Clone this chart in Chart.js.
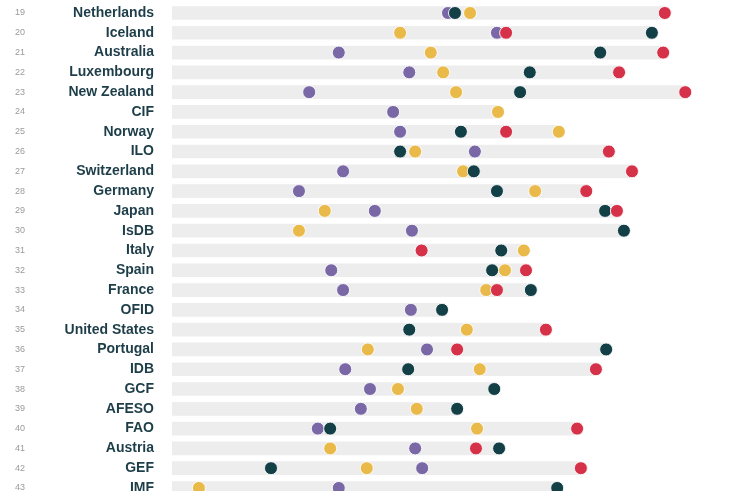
<!DOCTYPE html>
<html>
<head>
<meta charset="utf-8">
<script src="https://cdn.jsdelivr.net/npm/chart.js@4"></script>
<style>
  html, body { margin: 0; padding: 0; background: #fff; }
  #wrap { position: relative; width: 736px; height: 491px; }
</style>
</head>
<body>
<div id="wrap"><canvas id="chart"></canvas></div>
<script>
const ranks = [19, 20, 21, 22, 23, 24, 25, 26, 27, 28, 29, 30, 31, 32, 33, 34, 35, 36, 37, 38, 39, 40, 41, 42, 43];
const names = [
  'Netherlands', 'Iceland', 'Australia', 'Luxembourg', 'New Zealand', 'CIF', 'Norway', 'ILO',
  'Switzerland', 'Germany', 'Japan', 'IsDB', 'Italy', 'Spain', 'France', 'OFID',
  'United States', 'Portugal', 'IDB', 'GCF', 'AFESO', 'FAO', 'Austria', 'GEF', 'IMF'
];

// scores per indicator (null = not reported)
const purpleVals = [51.3, 60.4, 31.0, 44.1, 25.5, 41.1, 42.4, 56.3, 31.8, 23.6, 37.7, 44.6, 46.3, 29.6, 31.8, 44.4, null, 47.4, 32.2, 36.8, 35.1, 27.1, 45.2, 46.5, 31.0];
const yellowVals = [55.4, 42.4, 48.1, 50.4, 52.8, 60.6, 71.9, 45.2, 54.1, 67.5, 28.4, 23.6, 65.4, 61.9, 58.4, null, 54.8, 36.4, 57.2, 42.0, 45.5, 56.7, 29.4, 36.2, 5.0];
const tealVals   = [52.6, 89.2, 79.6, 66.5, 64.7, null, 53.7, 42.4, 56.1, 60.4, 80.5, 84.0, 61.2, 59.5, 66.7, 50.2, 44.1, 80.7, 43.9, 59.9, 53.0, 29.4, 60.8, 18.4, 71.6];
const redVals    = [91.6, 62.1, 91.3, 83.1, 95.4, null, 62.1, 81.2, 85.5, 77.0, 82.7, null, 46.4, 65.8, 60.4, null, 69.5, 53.0, 78.8, null, null, 75.3, 56.5, 76.0, null];

const series = [
  { vals: purpleVals, color: '#7a68a6' },
  { vals: yellowVals, color: '#e9b949' },
  { vals: tealVals,   color: '#133f47' },
  { vals: redVals,    color: '#d5324a' }
];

// gray track runs from 0 to the highest score in the row
const rowMax = ranks.map((r, i) => Math.max(...series.map(s => s.vals[i]).filter(v => v !== null)));

const rankLabels = {
  id: 'rankLabels',
  afterDraw(chart) {
    const ctx = chart.ctx;
    const y = chart.scales.y;
    ctx.save();
    ctx.font = '9px "Liberation Sans", Arial, sans-serif';
    ctx.fillStyle = '#9a9a9a';
    ctx.textAlign = 'center';
    ctx.textBaseline = 'middle';
    ranks.forEach(r => ctx.fillText(String(r), 20, y.getPixelForValue(r)));
    ctx.restore();
  }
};

const datasets = [{
  type: 'bar',
  data: ranks.map((r, i) => ({ x: [0, rowMax[i]], y: r })),
  backgroundColor: '#ededed',
  borderWidth: 0,
  barThickness: 13,
  order: 10
}];

series.forEach((s, k) => {
  datasets.push({
    type: 'scatter',
    data: ranks.map((r, i) => s.vals[i] === null ? null : { x: s.vals[i], y: r }).filter(d => d),
    backgroundColor: s.color,
    borderColor: 'rgba(255,255,255,0.9)',
    borderWidth: 1,
    pointRadius: 6.5,
    order: 4 - k
  });
});

new Chart(document.getElementById('chart'), {
  type: 'bar',
  data: { datasets },
  plugins: [rankLabels],
  options: {
    indexAxis: 'y',
    responsive: true,
    maintainAspectRatio: false,
    animation: false,
    layout: { autoPadding: false, padding: { left: 0, right: 26, top: 0, bottom: 0 } },
    plugins: { legend: { display: false }, tooltip: { enabled: false } },
    scales: {
      x: { type: 'linear', min: 0, max: 100, display: false },
      y: {
        type: 'linear',
        reverse: true,
        offset: false,
        min: 18.343,
        max: 43.153,
        grid: { display: false, offset: false },
        border: { display: false },
        afterBuildTicks: scale => { scale.ticks = ranks.map(v => ({ value: v })); },
        afterFit: scale => {
          scale.width = 172;
          scale.paddingTop = 0;
          scale.paddingBottom = 0;
        },
        ticks: {
          autoSkip: false,
          padding: 10,
          color: '#1d3d48',
          font: { family: '"Liberation Sans", Arial, sans-serif', size: 14, weight: 'bold' },
          callback: (v) => names[ranks.indexOf(v)]
        }
      }
    }
  }
});
</script>
</body>
</html>
